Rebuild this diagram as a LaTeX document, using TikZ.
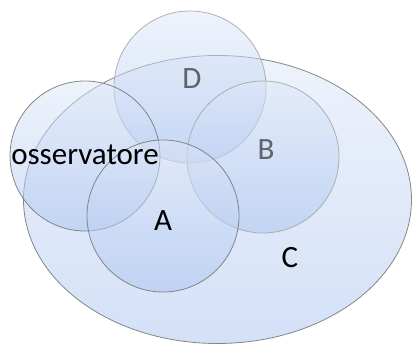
\documentclass[tikz,border=0pt]{standalone}
\usepackage{fontspec}
\setmainfont{Carlito}
\definecolor{shtop}{HTML}{DDE7F8}
\definecolor{shbot}{HTML}{A8C2F0}
\definecolor{edgedark}{HTML}{7A7A7A}
\definecolor{edgelight}{HTML}{A8A8A8}
\definecolor{lblgray}{HTML}{606468}
\tikzset{
  setshape/.style={top color=shtop, bottom color=shbot, fill opacity=0.5, draw=edgedark, line width=0.8pt, draw opacity=0.9},
  setlight/.style={setshape, draw=edgelight},
  lbl/.style={font=\fontsize{31}{31}\selectfont, inner sep=0pt, text opacity=1},
}
\begin{document}
\begin{tikzpicture}[x=1pt,y=1pt]
\useasboundingbox (0,0) rectangle (413,345);
\shade[setshape] (217.5,145.5) ellipse [x radius=194, y radius=144];
\shade[setlight] (190,258) circle [radius=76];
\shade[setlight] (263,188) circle [radius=76];
\shade[setshape] (85,189) circle [radius=75];
\shade[setshape] (163,129) circle [radius=76];
\node[lbl, text=lblgray] (lD) at (192,266) {D};
\node[lbl, text=lblgray] (lB) at (266,195) {B};
\node[lbl] (lO) at (85,190) {osservatore};
\node[lbl] (lA) at (163,124) {A};
\node[lbl] (lC) at (290,87) {C};
\end{tikzpicture}
\end{document}
